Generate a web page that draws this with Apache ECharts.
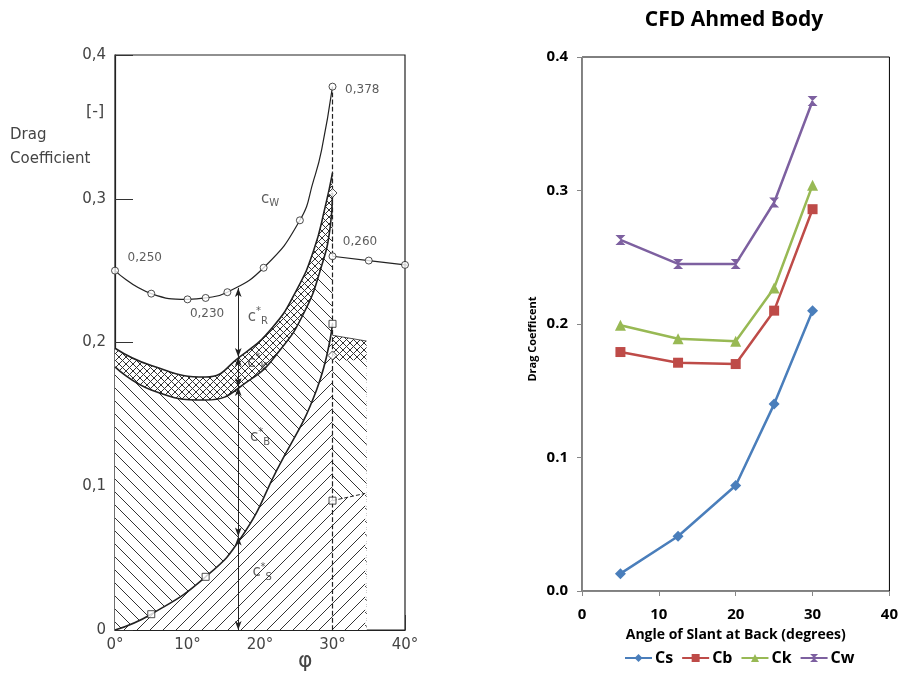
<!DOCTYPE html>
<html>
<head>
<meta charset="utf-8">
<script src="https://cdn.jsdelivr.net/npm/echarts@6/dist/echarts.min.js"></script>
<style>
  html, body { margin: 0; padding: 0; background: #fff; }
  #chart { width: 901px; height: 677px; }
</style>
</head>
<body>
<div id="chart"></div>
<script>
// ---- right panel: CFD Ahmed Body ----
const angles = [5, 12.5, 20, 25, 30]
const cs = [0.013, 0.041, 0.079, 0.140, 0.210]
const cb = [0.179, 0.171, 0.170, 0.210, 0.286]
const ck = [0.199, 0.189, 0.187, 0.227, 0.304]
const cw = [0.263, 0.245, 0.245, 0.291, 0.367]

// ---- left panel: measured drag breakdown (phi in degrees, coefficient) ----
const cwCurve = [[0, 0.250], [5, 0.234], [10, 0.230], [12.5, 0.231], [15.5, 0.235], [20.5, 0.252], [25.5, 0.285], [27.4, 0.313], [28.5, 0.334], [30, 0.378]]
const cwMarks = [[0, 0.250], [5, 0.234], [10, 0.230], [12.5, 0.231], [15.5, 0.235], [20.5, 0.252], [25.5, 0.285], [30, 0.378], [30, 0.260], [35, 0.257], [40, 0.254]]
const cwAfter = [[30, 0.260], [35, 0.257], [40, 0.254]]
const cwTail = [[40, 0.254], [44.5, 0.252]]
const ckTop = [[0, 0.196], [5, 0.184], [12.5, 0.176], [17.2, 0.190], [21.8, 0.211], [25.1, 0.237], [27.4, 0.264], [29, 0.2945], [30, 0.318]]
const ckTopAfter = [[30, 0.205], [34.7, 0.201]]
const cbTop = [[0, 0.183], [5, 0.167], [12.5, 0.160], [18.6, 0.174], [22.8, 0.195], [26, 0.220], [28.3, 0.250], [29.7, 0.281], [30, 0.304]]
const cbTopAfter = [[30, 0.187], [34.7, 0.188]]
const csCurve = [[0, 0], [5, 0.011], [12.5, 0.037], [17.5, 0.065], [22.3, 0.111], [27.8, 0.167], [30, 0.213]]
const csAfter = [[30, 0.090], [34.5, 0.095]]
const csMarks = [[5, 0.011], [12.5, 0.037], [30, 0.213], [30, 0.090]]
const diaMarks = [[30, 0.304], [30, 0.191]]
const drop30 = [[30, 0], [30, 0.378]]
const dimX = 17
const dimStops = [0, 0.065, 0.169, 0.190, 0.238]
const annot = [
  { name: 'R*', value: [19.7, 0.218] },
  { name: 'K*', value: [19.6, 0.186] },
  { name: 'B*', value: [20.0, 0.134] },
  { name: 'S*', value: [20.3, 0.040] },
  { name: 'W', value: [21.4, 0.300] },
  { name: '0,250', value: [4.1, 0.259] },
  { name: '0,230', value: [12.7, 0.220] },
  { name: '0,378', value: [34.1, 0.376] },
  { name: '0,260', value: [33.8, 0.270] }
]

// hatch pattern tiles
const hatch = (size, dirs) => {
  const c = document.createElement('canvas')
  c.width = c.height = size
  const g = c.getContext('2d')
  g.fillStyle = '#fff'
  g.fillRect(0, 0, size, size)
  g.strokeStyle = '#333'
  g.lineWidth = 1
  dirs.forEach(d => {
    g.beginPath()
    if (d === '/') {
      g.moveTo(-1, size + 1); g.lineTo(size + 1, -1)
      g.moveTo(-1, 1); g.lineTo(1, -1)
      g.moveTo(size - 1, size + 1); g.lineTo(size + 1, size - 1)
    } else {
      g.moveTo(-1, -1); g.lineTo(size + 1, size + 1)
      g.moveTo(size - 1, -1); g.lineTo(size + 1, 1)
      g.moveTo(-1, size - 1); g.lineTo(1, size + 1)
    }
    g.stroke()
  })
  return { image: c, repeat: 'repeat' }
}
const slash = hatch(13, ['/'])
const backslash = hatch(13, ['\\'])
const cross = hatch(7, ['/', '\\'])

const scanFont = 'DejaVu Sans'
const xlFont = 'Open Sans'

const areaSeries = (data, fill, width, smooth, dashed) => ({
  type: 'line', xAxisIndex: 0, yAxisIndex: 0, data,
  smooth, symbol: 'none', silent: true,
  lineStyle: { color: '#222', width, type: dashed ? 'dashed' : 'solid' },
  areaStyle: { color: fill, opacity: 1 }
})

const plainLine = (data, width, dashed, smooth) => ({
  type: 'line', xAxisIndex: 0, yAxisIndex: 0, data, smooth: smooth || false,
  symbol: 'none', silent: true, clip: false,
  lineStyle: { color: '#222', width, type: dashed ? 'dashed' : 'solid' }
})

const marks = (data, symbol, size) => ({
  type: 'scatter', xAxisIndex: 0, yAxisIndex: 0, data, symbol, symbolSize: size,
  silent: true, z: 5,
  itemStyle: { color: '#fff', borderColor: '#222', borderWidth: 1 }
})

const dimSegs = []
for (let i = 0; i < dimStops.length - 1; i++) {
  dimSegs.push([{ coord: [dimX, dimStops[i]] }, { coord: [dimX, dimStops[i + 1]] }])
}

const labelFmt = p => {
  const n = p.name
  if (n.indexOf(',') >= 0) return '{n|' + n + '}'
  if (n.endsWith('*')) return '{c|c}{u|*}{s|' + n[0] + '}'
  return '{c|c}{s|' + n + '}'
}

const chart = echarts.init(document.getElementById('chart'))

chart.setOption({
  animation: false,
  backgroundColor: '#fff',
  title: {
    text: 'CFD Ahmed Body', left: 729, top: 5, textAlign: 'center',
    textStyle: { fontFamily: xlFont, fontWeight: 'bold', fontSize: 21, color: '#000' }
  },
  legend: {
    data: ['Cs', 'Cb', 'Ck', 'Cw'], left: 619, top: 645,
    itemWidth: 27, itemHeight: 10, itemGap: 8,
    textStyle: { fontFamily: xlFont, fontWeight: 'bold', fontSize: 16, color: '#000', padding: [0, 0, 0, -2] }
  },
  graphic: [
    { type: 'text', left: 10, top: 128, style: { text: 'Drag', font: '15px "DejaVu Sans"', fill: '#444' } },
    { type: 'text', left: 10, top: 152, style: { text: 'Coefficient', font: '15px "DejaVu Sans"', fill: '#444' } },
    { type: 'text', left: 86, top: 104, style: { text: '[-]', font: '16px "DejaVu Sans"', fill: '#444' } },
    { type: 'text', left: 298, top: 650, style: { text: 'φ', font: '22px "DejaVu Sans"', fill: '#444' } },
    {
      type: 'text', x: 533, y: 339, rotation: Math.PI / 2,
      style: { text: 'Drag Coefficent', font: 'bold 11px "Open Sans"', fill: '#000', align: 'center', verticalAlign: 'middle' }
    }
  ],
  grid: [
    { left: 115, top: 55, width: 290, height: 575, show: true, borderColor: '#222', borderWidth: 1.2 },
    { left: 582, top: 57, width: 309, height: 534, show: true, borderColor: '#000', borderWidth: 1 }
  ],
  xAxis: [
    {
      gridIndex: 0, type: 'value', min: 0, max: 40, interval: 10,
      axisLine: { lineStyle: { color: '#222', width: 1.2 } },
      axisTick: { inside: true, length: 15, lineStyle: { color: '#333' } },
      axisLabel: { formatter: v => v + '°', fontFamily: scanFont, fontSize: 15, color: '#444', margin: 8 },
      splitLine: { show: false }
    },
    {
      gridIndex: 1, type: 'value', min: 0, max: 40, interval: 10,
      name: 'Angle of Slant at Back (degrees)', nameLocation: 'middle', nameGap: 37,
      nameTextStyle: { fontFamily: xlFont, fontWeight: 'bold', fontSize: 14, color: '#000' },
      axisLine: { lineStyle: { color: '#868686' } },
      axisTick: { length: 5, lineStyle: { color: '#868686' } },
      axisLabel: { fontFamily: xlFont, fontWeight: 'bold', fontSize: 15, color: '#000', margin: 16 },
      splitLine: { show: false }
    }
  ],
  yAxis: [
    {
      gridIndex: 0, type: 'value', min: 0, max: 0.4, interval: 0.1,
      axisLine: { lineStyle: { color: '#222', width: 1.2 } },
      axisTick: { inside: true, length: 18, lineStyle: { color: '#333' } },
      axisLabel: {
        formatter: v => v === 0 ? '0' : v.toFixed(1).replace('.', ','),
        fontFamily: scanFont, fontSize: 15, color: '#444', margin: 9
      },
      splitLine: { show: false }
    },
    {
      gridIndex: 1, type: 'value', min: 0, max: 0.4, interval: 0.1,
      axisLine: { show: true, lineStyle: { color: '#868686' } },
      axisTick: { show: true, length: 5, lineStyle: { color: '#868686' } },
      axisLabel: { formatter: v => v.toFixed(1), fontFamily: xlFont, fontWeight: 'bold', fontSize: 15, color: '#000', margin: 14 },
      splitLine: { show: false }
    }
  ],
  series: [
    // left panel: stacked hatched regions, each drawn down to zero
    areaSeries(ckTop, cross, 1.6, 0.5),
    areaSeries(ckTopAfter, cross, 0.8, false),
    areaSeries(cbTop, backslash, 1.6, 0.5),
    areaSeries(cbTopAfter, backslash, 0, false),
    areaSeries(csCurve, slash, 1.6, 0.5),
    areaSeries(csAfter, slash, 1, false, true),
    plainLine(cwCurve, 1.2, false, 0.5),
    plainLine(cwAfter, 1.2, false),
    plainLine(cwTail, 1.2, true),
    plainLine(drop30, 1.2, true),
    {
      type: 'line', xAxisIndex: 0, yAxisIndex: 0, data: [], silent: true,
      markLine: {
        silent: true, symbol: ['arrow', 'arrow'], symbolSize: [5, 9], label: { show: false },
        lineStyle: { color: '#222', width: 1, type: 'solid' },
        data: dimSegs
      }
    },
    marks(cwMarks, 'circle', 7),
    marks(csMarks, 'rect', 7),
    marks(diaMarks, 'diamond', 9),
    {
      type: 'scatter', xAxisIndex: 0, yAxisIndex: 0, data: annot, symbolSize: 0, silent: true, z: 6,
      label: {
        show: true, position: 'inside', formatter: labelFmt,
        rich: {
          n: { fontFamily: scanFont, fontSize: 12, color: '#333' },
          c: { fontFamily: scanFont, fontSize: 15, color: '#333' },
          u: { fontFamily: scanFont, fontSize: 10, color: '#333', padding: [0, 0, 10, 0] },
          s: { fontFamily: scanFont, fontSize: 10, color: '#333', padding: [10, 0, 0, 0] }
        }
      }
    },
    // right panel: CFD results
    {
      name: 'Cs', type: 'line', xAxisIndex: 1, yAxisIndex: 1,
      data: angles.map((a, i) => [a, cs[i]]),
      symbol: 'diamond', symbolSize: 11, color: '#4A7EBB', lineStyle: { width: 2.5 }
    },
    {
      name: 'Cb', type: 'line', xAxisIndex: 1, yAxisIndex: 1,
      data: angles.map((a, i) => [a, cb[i]]),
      symbol: 'rect', symbolSize: 10, color: '#BE4B48', lineStyle: { width: 2.5 }
    },
    {
      name: 'Ck', type: 'line', xAxisIndex: 1, yAxisIndex: 1,
      data: angles.map((a, i) => [a, ck[i]]),
      symbol: 'triangle', symbolSize: 11, color: '#98B954', lineStyle: { width: 2.5 }
    },
    {
      name: 'Cw', type: 'line', xAxisIndex: 1, yAxisIndex: 1,
      data: angles.map((a, i) => [a, cw[i]]),
      symbol: 'path://M0,0 L10,0 L0,10 L10,10 Z', symbolSize: 10, color: '#7D60A0', lineStyle: { width: 2.5 }
    }
  ]
})
</script>
</body>
</html>
